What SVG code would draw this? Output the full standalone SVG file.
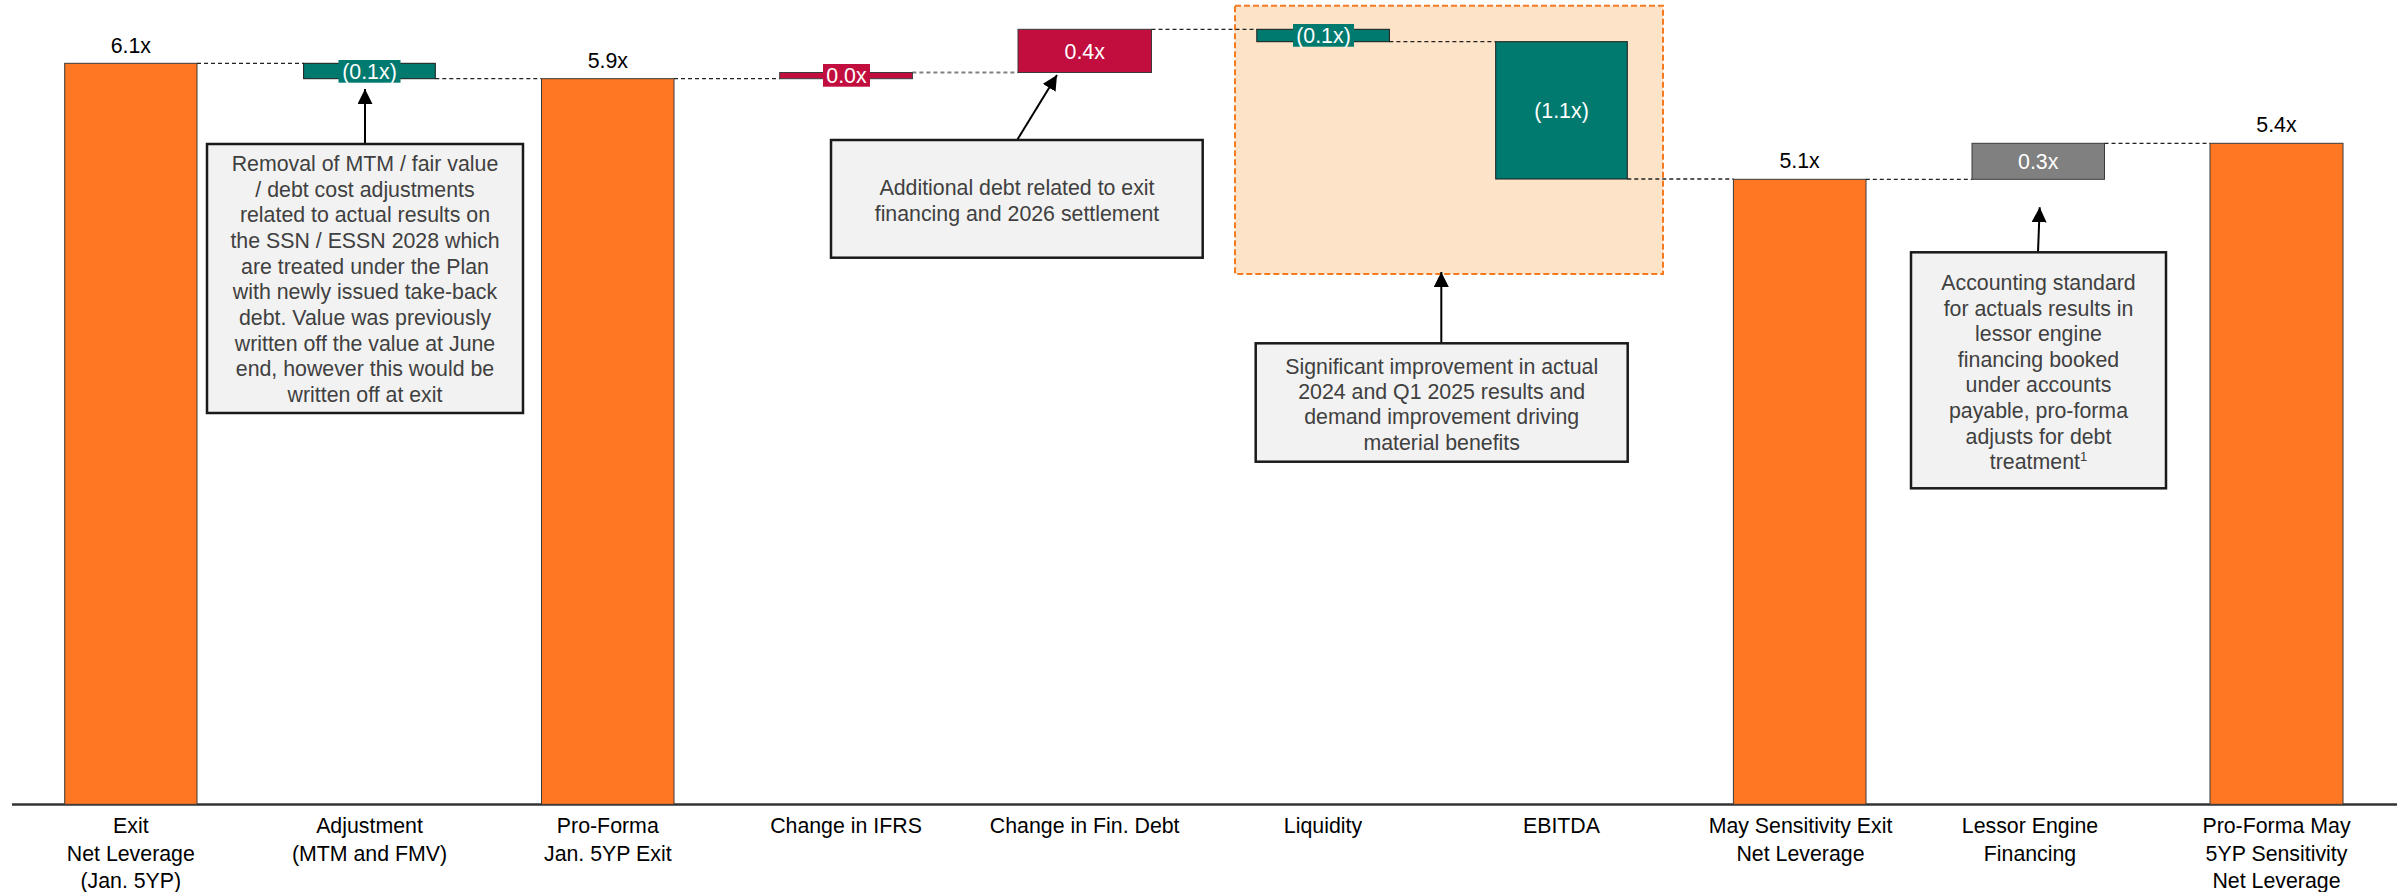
<svg xmlns="http://www.w3.org/2000/svg" width="2397" height="892" viewBox="0 0 2397 892">
<defs>
<style>
text{font-family:"Liberation Sans",Arial,sans-serif;font-size:21.33px}
.val{fill:#000;text-anchor:middle}
.in{fill:#ffffff;text-anchor:middle}
.cat{fill:#000;text-anchor:middle}
.note{fill:#404040;text-anchor:middle}
.orange{fill:#FF7722;stroke:#3a3a3a;stroke-width:1}
.teal{fill:#007A6F;stroke:#1a1a1a;stroke-width:1}
.crim{fill:#C20E3E;stroke:#3a3a3a;stroke-width:1}
.grey{fill:#808080;stroke:#3a3a3a;stroke-width:1}
.box{fill:#F2F2F2;stroke:#1a1a1a;stroke-width:2.5}
.dash{stroke:#222;stroke-width:1.3;stroke-dasharray:4,3;fill:none}
.arrow{stroke:#000;stroke-width:2;fill:none;marker-end:url(#ah)}
</style>
<marker id="ah" viewBox="0 0 10 10" refX="10" refY="5" markerWidth="7.5" markerHeight="7.5" markerUnits="strokeWidth" orient="auto">
<path d="M0,0 L10,5 L0,10 z" fill="#000"/>
</marker>
</defs>
<rect width="2397" height="892" fill="#ffffff"/>

<g id="highlight">
<rect x="1235" y="5.7" width="428" height="268.3" fill="#FDE4C9" stroke="#F47A20" stroke-width="2" stroke-dasharray="6,3"/>
</g>

<g id="connectors">
<line class="dash" x1="197" y1="63.3" x2="303.6" y2="63.3"/>
<line class="dash" x1="435.3" y1="78.7" x2="541.5" y2="78.7"/>
<line class="dash" x1="674" y1="78.7" x2="779.7" y2="78.7"/>
<line x1="912.4" y1="72.5" x2="1018" y2="72.5" stroke="#808080" stroke-width="2" stroke-dasharray="4,3"/>
<line class="dash" x1="1151.5" y1="29.3" x2="1256.8" y2="29.3"/>
<line class="dash" x1="1389.4" y1="41.7" x2="1495.7" y2="41.7"/>
<line class="dash" x1="1627.3" y1="179" x2="1733.4" y2="179"/>
<line class="dash" x1="1865.8" y1="179.3" x2="1972" y2="179.3"/>
<line class="dash" x1="2104.5" y1="143.3" x2="2210" y2="143.3"/>
<line class="arrow" x1="365" y1="144" x2="365" y2="89"/>
<line class="arrow" x1="1017.6" y1="139.3" x2="1057" y2="75"/>
<line class="arrow" x1="1441.3" y1="343.3" x2="1441.3" y2="272"/>
<line class="arrow" x1="2038" y1="252.3" x2="2039.7" y2="207.3"/>
</g>

<g id="axis">
<line x1="12" y1="804.5" x2="2397" y2="804.5" stroke="#333" stroke-width="2.5"/>
</g>

<g id="bar-exit">
<rect class="orange" x="64.7" y="63.3" width="132.3" height="741"/>
<text class="val" x="130.8" y="52.7">6.1x</text>
<text class="cat" x="130.8" y="833">Exit</text>
<text class="cat" x="130.8" y="861">Net Leverage</text>
<text class="cat" x="130.8" y="888">(Jan. 5YP)</text>
</g>

<g id="bar-adjustment">
<rect class="teal" x="303.6" y="63.3" width="131.7" height="15.4"/>
<rect x="338.5" y="60" width="62" height="22.7" fill="#007A6F"/>
<text class="in" x="369.5" y="78.5">(0.1x)</text>
<text class="cat" x="369.5" y="833">Adjustment</text>
<text class="cat" x="369.5" y="861">(MTM and FMV)</text>
</g>

<g id="bar-proforma">
<rect class="orange" x="541.5" y="78.7" width="132.5" height="725.6"/>
<text class="val" x="607.8" y="68.3">5.9x</text>
<text class="cat" x="607.8" y="833">Pro-Forma</text>
<text class="cat" x="607.8" y="861">Jan. 5YP Exit</text>
</g>

<g id="bar-ifrs">
<rect class="crim" x="779.7" y="72.5" width="132.7" height="6.2"/>
<rect x="823" y="64" width="47" height="22.7" fill="#C20E3E"/>
<text class="in" x="846.5" y="82.5">0.0x</text>
<text class="cat" x="846" y="833">Change in IFRS</text>
</g>

<g id="bar-findebt">
<rect class="crim" x="1018" y="29.3" width="133.5" height="43.2"/>
<text class="in" x="1084.7" y="59">0.4x</text>
<text class="cat" x="1084.7" y="833">Change in Fin. Debt</text>
</g>

<g id="bar-liquidity">
<rect class="teal" x="1256.8" y="29.3" width="132.6" height="12.4"/>
<rect x="1293" y="24" width="61" height="22.7" fill="#007A6F"/>
<text class="in" x="1323.5" y="42.5">(0.1x)</text>
<text class="cat" x="1323" y="833">Liquidity</text>
</g>

<g id="bar-ebitda">
<rect class="teal" x="1495.7" y="41.7" width="131.6" height="137.3"/>
<text class="in" x="1561.5" y="118.3">(1.1x)</text>
<text class="cat" x="1561.5" y="833">EBITDA</text>
</g>

<g id="bar-may">
<rect class="orange" x="1733.4" y="179.3" width="132.6" height="625"/>
<text class="val" x="1799.6" y="168.3">5.1x</text>
<text class="cat" x="1800.5" y="833">May Sensitivity Exit</text>
<text class="cat" x="1800.5" y="861">Net Leverage</text>
</g>

<g id="bar-lessor">
<rect class="grey" x="1972" y="143.3" width="132.5" height="36"/>
<text class="in" x="2038.2" y="168.5">0.3x</text>
<text class="cat" x="2030" y="833">Lessor Engine</text>
<text class="cat" x="2030" y="861">Financing</text>
</g>

<g id="bar-proforma-may">
<rect class="orange" x="2210" y="143.3" width="133" height="661"/>
<text class="val" x="2276.5" y="132.3">5.4x</text>
<text class="cat" x="2276.5" y="833">Pro-Forma May</text>
<text class="cat" x="2276.5" y="861">5YP Sensitivity</text>
<text class="cat" x="2276.5" y="888">Net Leverage</text>
</g>

<g id="note-mtm">
<rect class="box" x="207" y="144" width="316" height="269"/>
<text class="note" x="365" y="170.8">Removal of MTM / fair value</text>
<text class="note" x="365" y="196.5">/ debt cost adjustments</text>
<text class="note" x="365" y="222.2">related to actual results on</text>
<text class="note" x="365" y="247.9">the SSN / ESSN 2028 which</text>
<text class="note" x="365" y="273.6">are treated under the Plan</text>
<text class="note" x="365" y="299.3">with newly issued take-back</text>
<text class="note" x="365" y="325">debt. Value was previously</text>
<text class="note" x="365" y="350.7">written off the value at June</text>
<text class="note" x="365" y="376.4">end, however this would be</text>
<text class="note" x="365" y="402.1">written off at exit</text>
</g>

<g id="note-debt">
<rect class="box" x="831" y="140" width="371.7" height="117.7"/>
<text class="note" x="1017" y="194.5">Additional debt related to exit</text>
<text class="note" x="1017" y="220.5">financing and 2026 settlement</text>
</g>

<g id="note-ebitda">
<rect class="box" x="1255.7" y="343.3" width="372" height="118.4"/>
<text class="note" x="1441.7" y="373.5">Significant improvement in actual</text>
<text class="note" x="1441.7" y="398.8">2024 and Q1 2025 results and</text>
<text class="note" x="1441.7" y="424.2">demand improvement driving</text>
<text class="note" x="1441.7" y="449.5">material benefits</text>
</g>

<g id="note-lessor">
<rect class="box" x="1911" y="252.3" width="255" height="236"/>
<text class="note" x="2038.5" y="290">Accounting standard</text>
<text class="note" x="2038.5" y="315.6">for actuals results in</text>
<text class="note" x="2038.5" y="341.2">lessor engine</text>
<text class="note" x="2038.5" y="366.8">financing booked</text>
<text class="note" x="2038.5" y="392.4">under accounts</text>
<text class="note" x="2038.5" y="418">payable, pro-forma</text>
<text class="note" x="2038.5" y="443.6">adjusts for debt</text>
<text class="note" x="2038.5" y="469.2">treatment<tspan font-size="13" dy="-8">1</tspan></text>
</g>
</svg>
